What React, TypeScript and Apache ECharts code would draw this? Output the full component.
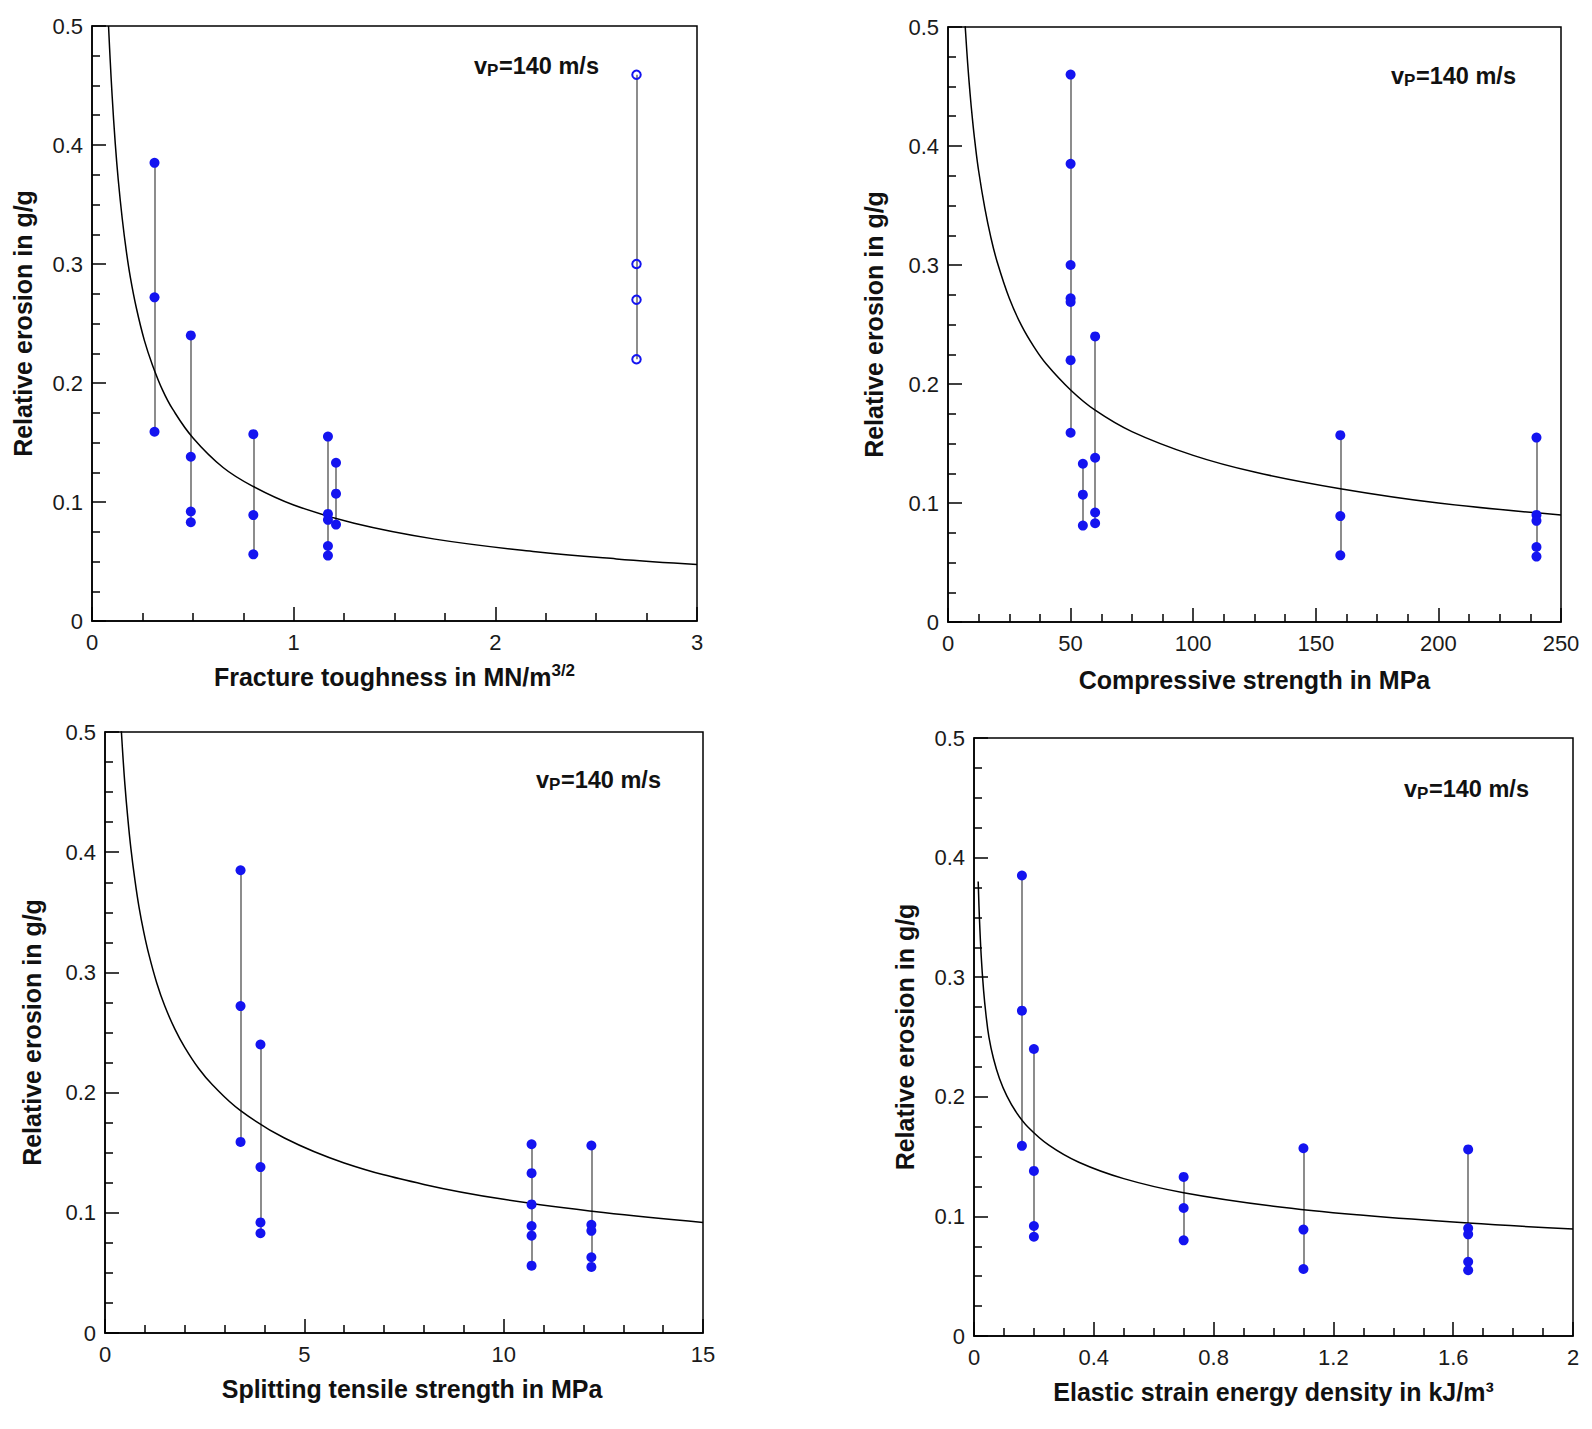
import React, { useEffect, useRef } from "react";
import * as echarts from "echarts";

// ---------- Panel 1: fracture toughness ----------
const fracTicks = [0, 1, 2, 3];
const fracX = [0.31, 0.49, 0.8, 1.17, 1.21];
const fracY = [
  [0.385, 0.272, 0.159],
  [0.24, 0.138, 0.092, 0.083],
  [0.157, 0.089, 0.056],
  [0.155, 0.09, 0.085, 0.063, 0.055],
  [0.133, 0.107, 0.081],
];
const fracOpenX = [2.7];
const fracOpenY = [[0.459, 0.3, 0.27, 0.22]];
const fracCurveX = [0.082, 0.09, 0.1, 0.115, 0.13, 0.15, 0.17, 0.19, 0.22, 0.26, 0.3, 0.35, 0.4, 0.5, 0.65, 0.8, 1.0, 1.3, 1.7, 2.2, 2.6, 3.0];
const fracCurveY = [0.5, 0.472, 0.441, 0.402, 0.371, 0.338, 0.311, 0.289, 0.263, 0.2356, 0.215, 0.194, 0.178, 0.154, 0.129, 0.113, 0.0975, 0.0821, 0.0688, 0.0582, 0.0522, 0.0475];

// ---------- Panel 2: compressive strength ----------
const compTicks = [0, 50, 100, 150, 200, 250];
const compX = [50, 55, 60, 160, 240];
const compY = [
  [0.46, 0.385, 0.3, 0.272, 0.269, 0.22, 0.159],
  [0.133, 0.107, 0.081],
  [0.24, 0.138, 0.092, 0.083],
  [0.157, 0.089, 0.056],
  [0.155, 0.09, 0.085, 0.063, 0.055],
];
const compCurveX = [7, 8, 9, 10, 11, 12.5, 15, 17.5, 20, 25, 30, 35, 40, 50, 60, 75, 100, 125, 160, 200, 250];
const compCurveY = [0.501, 0.47, 0.444, 0.422, 0.403, 0.379, 0.348, 0.323, 0.303, 0.272, 0.249, 0.2314, 0.217, 0.195, 0.178, 0.16, 0.14, 0.126, 0.112, 0.1, 0.09];

// ---------- Panel 3: splitting tensile strength ----------
const splitTicks = [0, 5, 10, 15];
const splitX = [3.4, 3.9, 10.7, 12.2];
const splitY = [
  [0.385, 0.272, 0.159],
  [0.24, 0.138, 0.092, 0.083],
  [0.157, 0.133, 0.107, 0.089, 0.081, 0.056],
  [0.156, 0.09, 0.085, 0.063, 0.055],
];
const splitCurveX = [0.41, 0.45, 0.5, 0.57, 0.65, 0.75, 0.85, 0.97, 1.1, 1.3, 1.5, 1.75, 2.0, 2.35, 2.7, 3.4, 4.5, 6, 8, 10, 12.5, 15];
const splitCurveY = [0.501, 0.4795, 0.456, 0.429, 0.403, 0.377, 0.355, 0.334, 0.315, 0.291, 0.272, 0.253, 0.2376, 0.22, 0.2063, 0.185, 0.1622, 0.1415, 0.1236, 0.1112, 0.1002, 0.092];

// ---------- Panel 4: elastic strain energy density ----------
const elasTicks = [0, 0.4, 0.8, 1.2, 1.6, 2];
const elasX = [0.16, 0.2, 0.7, 1.1, 1.65];
const elasY = [
  [0.385, 0.272, 0.159],
  [0.24, 0.138, 0.092, 0.083],
  [0.133, 0.107, 0.08],
  [0.157, 0.089, 0.056],
  [0.156, 0.09, 0.085, 0.062, 0.055],
];
const elasCurveX = [0.014, 0.018, 0.024, 0.032, 0.04, 0.05, 0.065, 0.085, 0.11, 0.14, 0.18, 0.25, 0.35, 0.5, 0.7, 1.0, 1.3, 1.65, 2.0];
const elasCurveY = [0.38, 0.35, 0.318, 0.289, 0.2686, 0.2496, 0.232, 0.2153, 0.2005, 0.1875, 0.1748, 0.1596, 0.1453, 0.1316, 0.1198, 0.1085, 0.1009, 0.0944, 0.0895];

const yTicks = [0, 0.1, 0.2, 0.3, 0.4, 0.5];

const yTitle = "Relative erosion in g/g";
const noteParts = ["v", "P", "=140 m/s"];

const FONT = "'Liberation Sans', Arial, Helvetica, sans-serif";
const BLUE = "#1414f0";

type Panel = {
  ticks: number[];
  minor: number;
  xs: number[];
  ys: number[][];
  openXs: number[];
  openYs: number[][];
  cx: number[];
  cy: number[];
  xName: string;
  grid: { left: number; top: number; width: number; height: number };
  xGap: number;
  xPad: number;
  yGap: number;
  note: { x: number; y: number };
};

const panels: Panel[] = [
  {
    ticks: fracTicks, minor: 4, xs: fracX, ys: fracY, openXs: fracOpenX, openYs: fracOpenY,
    cx: fracCurveX, cy: fracCurveY,
    xName: "Fracture toughness in MN/m{sup|3/2}",
    grid: { left: 92, top: 26, width: 605, height: 595 },
    xGap: 41, xPad: 0, yGap: 57, note: { x: 474, y: 66 },
  },
  {
    ticks: compTicks, minor: 4, xs: compX, ys: compY, openXs: [], openYs: [],
    cx: compCurveX, cy: compCurveY,
    xName: "Compressive strength in MPa",
    grid: { left: 948, top: 27, width: 613, height: 595 },
    xGap: 43, xPad: 0, yGap: 62, note: { x: 1391, y: 76 },
  },
  {
    ticks: splitTicks, minor: 5, xs: splitX, ys: splitY, openXs: [], openYs: [],
    cx: splitCurveX, cy: splitCurveY,
    xName: "Splitting tensile strength in MPa",
    grid: { left: 105, top: 732, width: 598, height: 601 },
    xGap: 41, xPad: 16, yGap: 61, note: { x: 536, y: 780 },
  },
  {
    ticks: elasTicks, minor: 4, xs: elasX, ys: elasY, openXs: [], openYs: [],
    cx: elasCurveX, cy: elasCurveY,
    xName: "Elastic strain energy density in kJ/m\u00b3",
    grid: { left: 974, top: 738, width: 599, height: 598 },
    xGap: 41, xPad: 0, yGap: 57, note: { x: 1404, y: 789 },
  },
];

const fmt = (v: number) => String(parseFloat(Number(v).toFixed(3)));

function buildOption() {
  const grid: any[] = [];
  const xAxis: any[] = [];
  const yAxis: any[] = [];
  const series: any[] = [];
  const graphic: any[] = [];

  const lineStyle = { color: "#000", width: 1.5 };

  panels.forEach((p, i) => {
    grid.push({
      ...p.grid,
      show: true,
      borderColor: "#000",
      borderWidth: 1.5,
      backgroundColor: "transparent",
      containLabel: false,
    });
    xAxis.push({
      type: "value",
      gridIndex: i,
      min: p.ticks[0],
      max: p.ticks[p.ticks.length - 1],
      interval: p.ticks[1] - p.ticks[0],
      axisLine: { show: true, onZero: false, lineStyle },
      axisTick: { show: true, inside: true, length: 14, lineStyle },
      minorTick: { show: true, splitNumber: p.minor, length: 8, lineStyle },
      splitLine: { show: false },
      axisLabel: {
        color: "#1a1a1a", fontSize: 22, fontFamily: FONT, margin: 10,
        showMinLabel: true, showMaxLabel: true, formatter: fmt,
      },
      name: p.xName,
      nameLocation: "middle",
      nameGap: p.xGap,
      nameTextStyle: {
        color: "#111", fontSize: 25, fontWeight: "bold", fontFamily: FONT, lineHeight: 30,
        padding: [0, 0, 0, p.xPad],
        rich: {
          sup: { fontSize: 17, fontWeight: "bold", fontFamily: FONT, color: "#111", lineHeight: 17, verticalAlign: "top" },
        },
      },
    });
    yAxis.push({
      type: "value",
      gridIndex: i,
      min: yTicks[0],
      max: yTicks[yTicks.length - 1],
      interval: yTicks[1] - yTicks[0],
      axisLine: { show: true, onZero: false, lineStyle },
      axisTick: { show: true, inside: true, length: 14, lineStyle },
      minorTick: { show: true, splitNumber: 4, length: 8, lineStyle },
      splitLine: { show: false },
      axisLabel: {
        color: "#1a1a1a", fontSize: 22, fontFamily: FONT, margin: 9,
        showMinLabel: true, showMaxLabel: true, formatter: fmt,
      },
      name: yTitle,
      nameLocation: "middle",
      nameRotate: 90,
      nameGap: p.yGap,
      nameTextStyle: { color: "#111", fontSize: 25, fontWeight: "bold", fontFamily: FONT },
    });

    const allXs = [...p.xs, ...p.openXs];
    const allYs = [...p.ys, ...p.openYs];
    series.push({
      type: "lines",
      coordinateSystem: "cartesian2d",
      xAxisIndex: i,
      yAxisIndex: i,
      silent: true,
      z: 2,
      lineStyle: { color: "#808080", width: 1.8, opacity: 1 },
      data: allXs.map((x, k) => ({
        coords: [
          [x, Math.min(...allYs[k])],
          [x, Math.max(...allYs[k])],
        ],
      })),
    });
    series.push({
      type: "line",
      xAxisIndex: i,
      yAxisIndex: i,
      silent: true,
      z: 3,
      symbol: "none",
      showSymbol: false,
      smooth: 0.4,
      lineStyle: { color: "#000", width: 1.5 },
      data: p.cx.map((x, k) => [x, p.cy[k]]),
    });
    series.push({
      type: "scatter",
      xAxisIndex: i,
      yAxisIndex: i,
      z: 4,
      symbol: "circle",
      symbolSize: 10,
      itemStyle: { color: BLUE, opacity: 1 },
      data: p.xs.flatMap((x, k) => p.ys[k].map((y) => [x, y])),
    });
    if (p.openXs.length) {
      series.push({
        type: "scatter",
        xAxisIndex: i,
        yAxisIndex: i,
        z: 4,
        symbol: "circle",
        symbolSize: 8.5,
        itemStyle: { color: "rgba(255,255,255,0)", borderColor: BLUE, borderWidth: 2, opacity: 1 },
        data: p.openXs.flatMap((x, k) => p.openYs[k].map((y) => [x, y])),
      });
    }

    const big = { fontSize: 23.5, fontWeight: "bold", fontFamily: FONT, fill: "#111" };
    graphic.push({
      type: "group",
      x: p.note.x,
      y: p.note.y,
      z: 10,
      children: [
        { type: "text", x: 0, y: 0, style: { ...big, text: noteParts[0], textVerticalAlign: "middle", verticalAlign: "middle" } },
        {
          type: "text", x: 13, y: 4,
          style: { fontSize: 17, fontWeight: "bold", fontFamily: FONT, fill: "#111", text: noteParts[1], textVerticalAlign: "middle", verticalAlign: "middle" },
        },
        { type: "text", x: 25, y: 0, style: { ...big, text: noteParts[2], textVerticalAlign: "middle", verticalAlign: "middle" } },
      ],
    });
  });

  return {
    animation: false,
    backgroundColor: "#fff",
    grid,
    xAxis,
    yAxis,
    series,
    graphic,
  };
}

export default function App() {
  const ref = useRef<HTMLDivElement>(null);
  useEffect(() => {
    document.body.style.margin = "0";
    if (!ref.current) return;
    const chart = echarts.init(ref.current, undefined, { renderer: "svg" });
    chart.setOption(buildOption() as any);
    return () => chart.dispose();
  }, []);
  return (
    <div
      ref={ref}
      style={{ position: "absolute", left: 0, top: 0, width: 1592, height: 1429, background: "#fff" }}
    />
  );
}
